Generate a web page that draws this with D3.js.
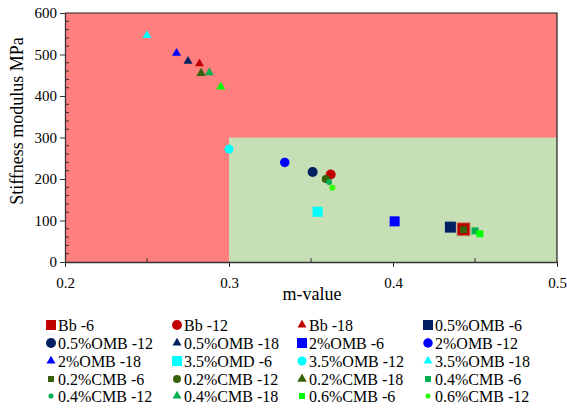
<!DOCTYPE html>
<html><head><meta charset="utf-8">
<script src="https://cdn.jsdelivr.net/npm/d3@7"></script>
<style>body{margin:0;background:#fff}svg{display:block}svg text{font-family:"Liberation Serif","DejaVu Serif",serif}</style>
</head><body><svg id="c" width="567" height="408"></svg>
<script>
// ---- data ----
const seriesNames = ["Bb -6","Bb -12","Bb -18","0.5%OMB -6","0.5%OMB -12","0.5%OMB -18","2%OMB -6","2%OMB -12","2%OMB -18","3.5%OMD -6","3.5%OMB -12","3.5%OMB -18","0.2%CMB -6","0.2%CMB -12","0.2%CMB -18","0.4%CMB -6","0.4%CMB -12","0.4%CMB -18","0.6%CMB -6","0.6%CMB -12","0.6%CMB -18"];
const mValues = [0.443,0.362,0.282,0.435,0.351,0.275,0.401,0.334,0.268,0.354,0.300,0.250,0.443,0.359,0.283,0.450,0.361,0.288,0.453,0.363,0.295];
const stiffness = [79,211,478,84,217,484,98,240,503,121,272,546,78,200,455,75,193,456,68,179,422];
const shapes = ["square","circle","triangle","square","circle","triangle","square","circle","triangle","square","circle","triangle","square","circle","triangle","square","circle","triangle","square","circle","triangle"];
const colors = ["#C00000","#C00000","#C00000","#002060","#002060","#002060","#0000FF","#0000FF","#0000FF","#00FFFF","#00FFFF","#00FFFF","#38610B","#38610B","#38610B","#00B050","#00B050","#00B050","#00FF00","#33FF00","#00FF00"];
const markerSizes = [12,10,9,11,10,9,10,9.5,9,10,9,9,7,8,9.5,7,6,9,7,6,9];
const legendCount = 20;
const xTicks = [0.2,0.3,0.4,0.5];
const yTicks = [0,100,200,300,400,500,600];
const zones = [{x0:0.2,x1:0.5,y0:0,y1:600,fill:"#FF7F7F"},{x0:0.3,x1:0.5,y0:0,y1:300,fill:"#C6DFB4"}];

// ---- chart ----
const svg = d3.select("#c");
const font = "Liberation Serif";
const x = d3.scaleLinear().domain([0.2,0.5]).range([65,557]);
const y = d3.scaleLinear().domain([0,600]).range([262,13]);

svg.selectAll("rect.zone").data(zones).enter().append("rect")
  .attr("x",d=>x(d.x0)).attr("width",d=>x(d.x1)-x(d.x0))
  .attr("y",d=>y(d.y1)).attr("height",d=>y(d.y0)-y(d.y1))
  .attr("fill",d=>d.fill);

// frame top/right
svg.append("path").attr("d",`M${x(0.2)},${y(600)}H${x(0.5)}V${y(0)}`)
  .attr("fill","none").attr("stroke","#222").attr("stroke-width",1.2);

// minor ticks
const xMinor = [0.25,0.35,0.45];
const yMinor = d3.range(20,600,20).filter(v=>v%100!==0);
svg.selectAll("line.xm").data(xMinor).enter().append("line")
  .attr("x1",d=>x(d)).attr("x2",d=>x(d)).attr("y1",y(0)).attr("y2",y(0)-4)
  .attr("stroke","#333");
svg.selectAll("line.ym").data(yMinor).enter().append("line")
  .attr("x1",x(0.2)).attr("x2",x(0.2)+4).attr("y1",d=>y(d)).attr("y2",d=>y(d))
  .attr("stroke","#333");

const xAxis = svg.append("g").attr("transform",`translate(0,${y(0)})`)
  .call(d3.axisBottom(x).tickValues(xTicks).tickFormat(d3.format(".1f")).tickSize(5).tickSizeOuter(0));
const yAxis = svg.append("g").attr("transform",`translate(${x(0.2)},0)`)
  .call(d3.axisLeft(y).tickValues(yTicks).tickSize(5).tickSizeOuter(0));
[xAxis,yAxis].forEach(g=>{
  g.attr("font-family",null).attr("font-size",null);
  g.selectAll("path").attr("stroke","#333").attr("stroke-width",1.3);
  g.selectAll("line").attr("stroke","#333");
  g.selectAll("text").style("font-family",font).attr("font-size",15).attr("fill","#000");
});
xAxis.selectAll("text").attr("dy","1.2em");
yAxis.selectAll("text").attr("dx","0");

svg.append("text").attr("x",312).attr("y",300).attr("text-anchor","middle")
  .style("font-family",font).attr("font-size",18).text("m-value");
svg.append("text").attr("transform","translate(23,121) rotate(-90)").attr("text-anchor","middle")
  .style("font-family",font).attr("font-size",18).text("Stiffness modulus MPa");

function symPath(shape,size){
  if(shape==="square") return d3.symbol(d3.symbolSquare, size*size)();
  if(shape==="circle") return d3.symbol(d3.symbolCircle, Math.PI*size*size/4)();
  return d3.symbol(d3.symbolTriangle, size*size*Math.sqrt(3)/4)();
}

const data = seriesNames.map((n,i)=>({name:n,m:mValues[i],s:stiffness[i],shape:shapes[i],color:colors[i],size:markerSizes[i]}));
svg.selectAll("path.pt").data(data).enter().append("path")
  .attr("d",d=>symPath(d.shape,d.size))
  .attr("transform",d=>`translate(${x(d.m)},${y(d.s)})`)
  .attr("fill",d=>d.color)
  .attr("stroke",d=>d.name==="Bb -6"?"rgba(192,0,0,0.35)":"none")
  .attr("stroke-width",2);

// legend
const colX = [51,177,302,428];
const rowY = [325,343,361,379,396];
const leg = svg.append("g");
data.slice(0,legendCount).forEach((d,i)=>{
  const cx = colX[i%4], cy = rowY[Math.floor(i/4)];
  const ls = Math.min(d.size,10)*(d.size<8?0.85:1);
  leg.append("path").attr("d",symPath(d.shape,ls)).attr("transform",`translate(${cx},${cy})`).attr("fill",d.color);
  leg.append("text").attr("x",cx+7).attr("y",cy+5.5).style("font-family",font).attr("font-size",16).text(d.name);
});
</script>
</body></html>
